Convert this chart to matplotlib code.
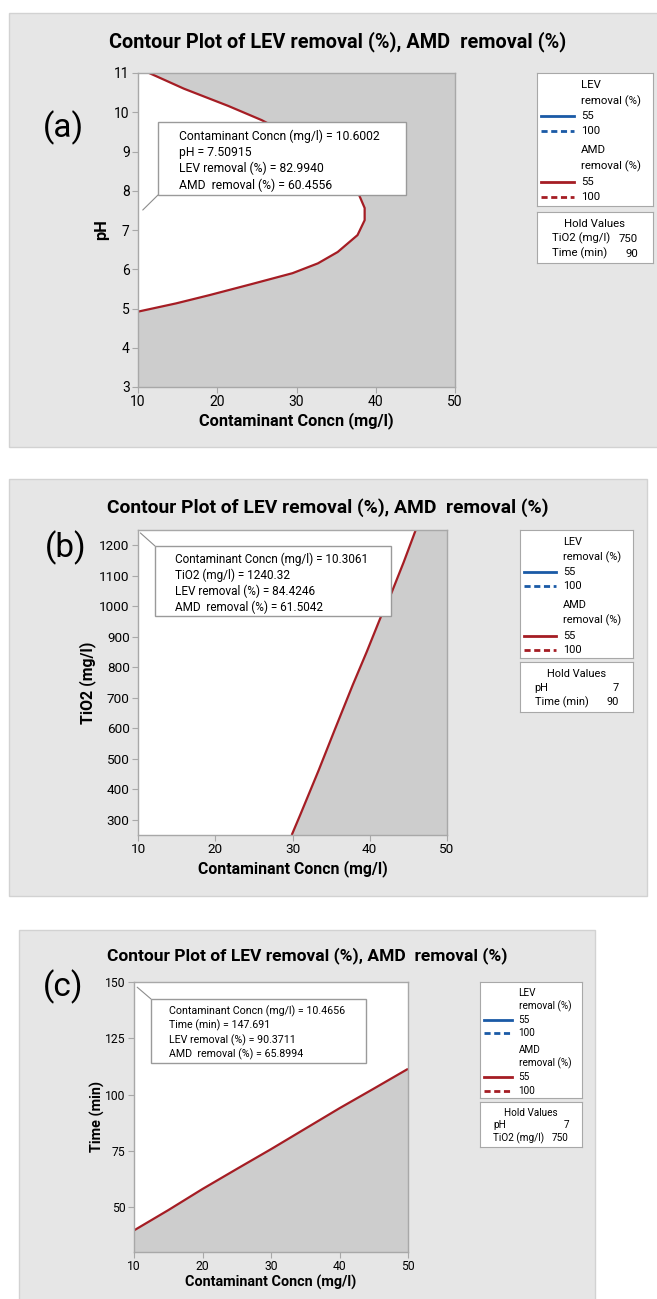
import matplotlib
matplotlib.use('Agg')
import matplotlib.pyplot as plt
from matplotlib.patches import Rectangle

W, H = 657, 1299

# ---- values ----
# AMD removal = 55 contour (white = feasible region)
conc_a = [10.0, 14.8, 19.0, 24.3, 29.5, 32.7, 35.2, 37.7, 38.6, 38.6, 37.9,
          35.8, 32.5, 28.9, 25.6, 21.4, 15.8, 11.4]
ph_a = [4.92, 5.13, 5.34, 5.62, 5.90, 6.15, 6.44, 6.87, 7.25, 7.56, 7.89,
        8.5, 9.0, 9.45, 9.80, 10.16, 10.6, 11.0]

conc_b = [29.9, 31.0, 33.4, 35.45, 37.8, 39.6, 41.35, 42.8, 44.4, 45.95]
tio2_b = [250, 316, 463, 594, 742, 850, 960, 1043, 1145, 1250]

conc_c = [10, 15, 20, 25, 30, 35, 40, 45, 50]
time_c = [39.6, 48.6, 58.0, 66.9, 75.7, 84.8, 93.9, 102.6, 111.4]

contour_levels = ["55", "100"]

# crosshair readouts
cursor_x = [10.6002, 10.3061, 10.4656]
cursor_y = [7.50915, 1240.32, 147.691]
lev_at_cursor = [82.9940, 84.4246, 90.3711]
amd_at_cursor = [60.4556, 61.5042, 65.8994]

y_names = ["pH", "TiO2 (mg/l)", "Time (min)"]
y_limits = [(3, 11), (250, 1250), (30, 150)]
y_ticks = [list(range(3, 12)), list(range(300, 1201, 100)), [50, 75, 100, 125, 150]]
x_ticks = [10, 20, 30, 40, 50]

hold_names = [["TiO2 (mg/l)", "Time (min)"], ["pH", "Time (min)"], ["pH", "TiO2 (mg/l)"]]
hold_values = [["750", "90"], ["7", "90"], ["7", "750"]]

TITLE = "Contour Plot of LEV removal (%), AMD  removal (%)"
XNAME = "Contaminant Concn (mg/l)"

plt.rcParams['font.family'] = ['Roboto', 'DejaVu Sans']

PANEL_BG = '#e6e6e6'
PLOT_GRAY = '#cdcdcd'
RED = '#a51d24'
BLUE = '#1a5aa6'
EDGE = '#a8a8a8'

# layout in pixels: bg box, axes box, title centre, tag centre, y-label x,
# legend box, hold box, callout box, scale
panels = [
    dict(tag='(a)', bg=(9, 13, 680, 447), ax=(138, 73, 455, 387), title=(338, 42),
         tagxy=(63, 128), ylab_x=102, xlab_y=421,
         leg=(537, 73, 653, 206), hold=(537, 212, 653, 263),
         call=(158, 122, 406, 195), corner='bottom', s=1.0),
    dict(tag='(b)', bg=(9, 479, 647, 896), ax=(138, 530, 447, 835), title=(328, 508),
         tagxy=(66, 548), ylab_x=88, xlab_y=869,
         leg=(520, 530, 633, 658), hold=(520, 662, 633, 712),
         call=(155, 546, 391, 616), corner='top', s=0.97),
    dict(tag='(c)', bg=(19, 930, 595, 1310), ax=(134, 982, 408, 1252), title=(307, 956),
         tagxy=(63, 987), ylab_x=97, xlab_y=1282,
         leg=(480, 982, 582, 1098), hold=(480, 1102, 582, 1147),
         call=(151, 999, 366, 1063), corner='top', s=0.876),
]


def frect(x0, y0, x1, y1):
    return [x0 / W, 1 - y1 / H, (x1 - x0) / W, (y1 - y0) / H]


def fig_rect(fig, box, face, edge, z):
    r = Rectangle((box[0] / W, 1 - box[3] / H), (box[2] - box[0]) / W, (box[3] - box[1]) / H,
                  transform=fig.transFigure, facecolor=face, edgecolor=edge, lw=1, zorder=z)
    fig.add_artist(r)


def num(v):
    return f"{v:#.6g}"


fig = plt.figure(figsize=(W / 100, H / 100), dpi=100)
fig.patch.set_facecolor('white')

curves = [(conc_a, ph_a), (conc_b, tio2_b), (conc_c, time_c)]

for i, p in enumerate(panels):
    s = p['s']
    fig_rect(fig, p['bg'], PANEL_BG, '#d2d2d2', -5)

    ax = fig.add_axes(frect(*p['ax']))
    ax.set_facecolor(PLOT_GRAY)
    ax.set_xlim(10, 50)
    ax.set_ylim(*y_limits[i])
    cx, cy = curves[i]
    lo, hi = y_limits[i]
    # white (feasible) region
    if i == 0:
        ax.fill(list(cx) + [10], list(cy) + [hi], color='white', lw=0)
    elif i == 1:
        ax.fill([10] + list(cx) + [10], [lo] + list(cy) + [hi], color='white', lw=0)
    else:
        ax.fill(list(cx) + [50, 10], list(cy) + [hi, hi], color='white', lw=0)
    ax.plot(cx, cy, color=RED, lw=1.6, solid_capstyle='butt')

    ax.set_xticks(x_ticks)
    ax.set_yticks(y_ticks[i])
    ax.tick_params(direction='out', length=4, width=0.8, color=EDGE,
                   labelsize=10 * s, pad=2)
    for sp in ax.spines.values():
        sp.set_color(EDGE)
        sp.set_linewidth(1.0)

    x0, y0, x1, y1 = p['ax']
    ax.set_xlabel(XNAME, fontsize=11.8 * s, fontweight='semibold', va='center')
    ax.xaxis.set_label_coords(0.5, (y1 - p['xlab_y']) / (y1 - y0))
    ax.set_ylabel(y_names[i], fontsize=11.8 * s, fontweight='semibold', va='center')
    ax.yaxis.set_label_coords((p['ylab_x'] - x0) / (x1 - x0), 0.5)

    fig.text(p['title'][0] / W, 1 - p['title'][1] / H, TITLE, ha='center', va='center',
             fontsize=14.3 * s, fontweight='semibold')
    fig.text(p['tagxy'][0] / W, 1 - p['tagxy'][1] / H, p['tag'], ha='center', va='center',
             fontsize=24)

    # crosshair callout
    bx0, by0, bx1, by1 = p['call']
    corner = (bx0, by1) if p['corner'] == 'bottom' else (bx0, by0)
    ax.annotate('', xy=(cursor_x[i], cursor_y[i]), xycoords='data',
                xytext=(corner[0] / W, 1 - corner[1] / H), textcoords='figure fraction',
                arrowprops=dict(arrowstyle='-', color='#8c8c8c', lw=0.8,
                                shrinkA=0, shrinkB=0))
    fig_rect(fig, p['call'], 'white', '#9a9a9a', 5)
    lines = [f"{XNAME} = {num(cursor_x[i])}",
             f"{y_names[i]} = {num(cursor_y[i])}",
             f"LEV removal (%) = {num(lev_at_cursor[i])}",
             f"AMD  removal (%) = {num(amd_at_cursor[i])}"]
    step = 16.3 * s
    for k, t in enumerate(lines):
        fig.text((bx0 + 21 * s) / W, 1 - (by0 + 14 * s + k * step) / H, t,
                 ha='left', va='center', fontsize=8.7 * s, zorder=6)

    # legend box
    lg = fig.add_axes(frect(*p['leg']))
    lw_, lh_ = p['leg'][2] - p['leg'][0], p['leg'][3] - p['leg'][1]
    lg.set_xlim(0, lw_)
    lg.set_ylim(lh_, 0)
    lg.set_xticks([])
    lg.set_yticks([])
    for sp in lg.spines.values():
        sp.set_color(EDGE)
    tx = 44 * s
    fs = 8.2 * s
    rows = [("LEV", 12.3), ("removal (%)", 28), ("AMD", 77.3), ("removal (%)", 93.3)]
    for t, yy in rows:
        lg.text(tx, yy * s, t, ha='left', va='center', fontsize=fs)
    for color, ys in [(BLUE, (43.3, 58)), (RED, (109, 124))]:
        for lvl, yy, style in zip(contour_levels, ys, ['-', (0, (2.2, 1.3))]):
            lg.plot([4.3 * s, 36.6 * s], [yy * s, yy * s], color=color, lw=2, ls=style)
            lg.text(tx, yy * s, lvl, ha='left', va='center', fontsize=fs)

    hb = fig.add_axes(frect(*p['hold']))
    hw, hh = p['hold'][2] - p['hold'][0], p['hold'][3] - p['hold'][1]
    hb.set_xlim(0, hw)
    hb.set_ylim(hh, 0)
    hb.set_xticks([])
    hb.set_yticks([])
    for sp in hb.spines.values():
        sp.set_color(EDGE)
    hb.text(hw / 2, 12 * s, "Hold Values", ha='center', va='center', fontsize=fs)
    for k in range(2):
        yy = (26.6 + 15 * k) * s
        hb.text(15 * s, yy, hold_names[i][k], ha='left', va='center', fontsize=fs)
        hb.text(hw - 15 * s, yy, hold_values[i][k], ha='right', va='center', fontsize=fs)

fig.savefig('out.png', dpi=100)
